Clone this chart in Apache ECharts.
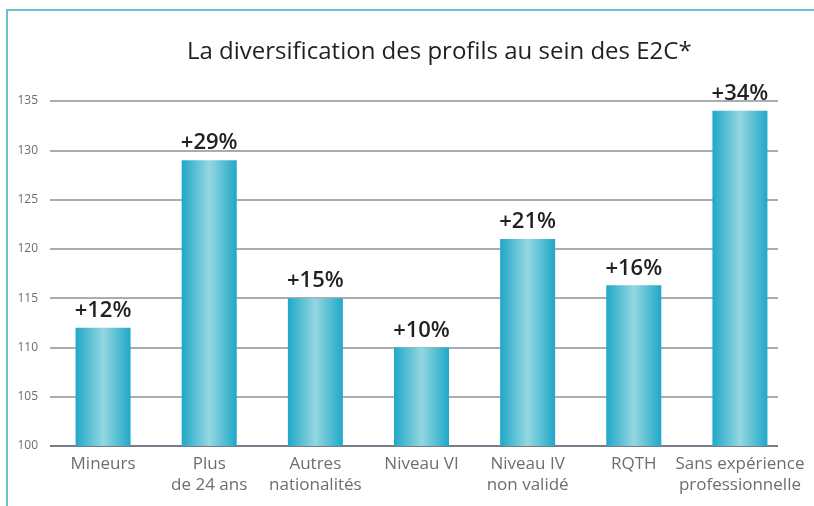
<!DOCTYPE html>
<html>
<head>
<meta charset="utf-8">
<script src="https://cdn.jsdelivr.net/npm/echarts@6/dist/echarts.min.js"></script>
<style>
  html, body { margin: 0; padding: 0; background: #fff; }
  #chart { width: 814px; height: 506px; }
</style>
</head>
<body>
<div id="chart"></div>
<script>
// catégories et valeurs
const categories = ['Mineurs', 'Plus\nde 24 ans', 'Autres\nnationalités', 'Niveau VI', 'Niveau IV\nnon validé', 'RQTH', 'Sans expérience\nprofessionnelle'];
const values = [112, 129, 115, 110, 121, 116.3, 134];
const growthLabels = ['+12%', '+29%', '+15%', '+10%', '+21%', '+16%', '+34%'];
const yTicks = [100, 105, 110, 115, 120, 125, 130, 135];

const chart = echarts.init(document.getElementById('chart'));

// première ligne (axe) plus foncée, les autres grises
const gridColors = yTicks.map((t, i) => (i === 0 ? '#4a5060' : '#8c9097'));

const option = {
  animation: false,
  textStyle: { fontFamily: 'Open Sans' },
  title: {
    text: 'La diversification des profils au sein des E2C*',
    left: 182,
    top: 35,
    textStyle: { fontSize: 24, fontWeight: 500, color: '#231f20', fontFamily: 'Open Sans' }
  },
  // cadre bleu clair (gauche + haut)
  graphic: [
    { type: 'line', shape: { x1: 7, y1: 10, x2: 7, y2: 506 }, style: { stroke: '#6fbdd0', lineWidth: 2 } },
    { type: 'line', shape: { x1: 6, y1: 10, x2: 814, y2: 10 }, style: { stroke: '#6fbdd0', lineWidth: 2 } }
  ],
  // grid 0 : barres ; grid 1 : quadrillage et graduations (plus court à droite)
  grid: [
    { left: 50, right: 21, top: 101, bottom: 60 },
    { left: 50, right: 36, top: 101, bottom: 60 }
  ],
  xAxis: [
    {
      type: 'category',
      gridIndex: 0,
      data: categories,
      axisTick: { show: false },
      axisLine: { show: false },
      axisLabel: { color: '#6d6e71', fontSize: 17, lineHeight: 21, margin: 8, interval: 0 }
    },
    {
      type: 'value',
      gridIndex: 1,
      min: 0,
      max: 1,
      show: false
    }
  ],
  yAxis: [
    {
      type: 'value',
      gridIndex: 0,
      min: yTicks[0],
      max: yTicks[yTicks.length - 1],
      interval: 5,
      show: false
    },
    {
      type: 'value',
      gridIndex: 1,
      min: yTicks[0],
      max: yTicks[yTicks.length - 1],
      interval: 5,
      axisLine: { show: false },
      axisTick: { show: false },
      axisLabel: { color: '#6d6e71', fontSize: 12, margin: 12 },
      splitLine: { lineStyle: { color: gridColors, width: 1.5 } }
    }
  ],
  series: [{
    type: 'bar',
    xAxisIndex: 0,
    yAxisIndex: 0,
    data: values,
    barWidth: 55,
    itemStyle: {
      color: new echarts.graphic.LinearGradient(0, 0, 1, 0, [
        { offset: 0, color: '#1fa8c8' },
        { offset: 0.5, color: '#94d7e0' },
        { offset: 1, color: '#1fa8c8' }
      ])
    },
    label: {
      show: true,
      position: 'top',
      distance: 6,
      fontSize: 22,
      fontWeight: 600,
      color: '#231f20',
      formatter: (p) => growthLabels[p.dataIndex]
    }
  }]
};

chart.setOption(option);
</script>
</body>
</html>
